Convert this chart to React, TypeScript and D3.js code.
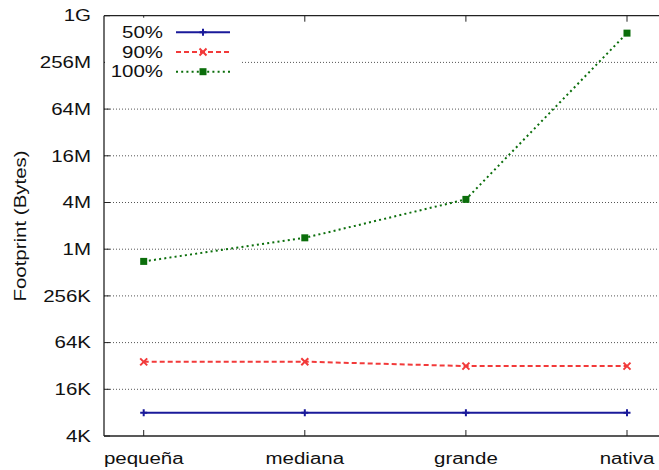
import React from "react";
import * as d3 from "d3";

const categories = ["pequeña", "mediana", "grande", "nativa"];
const seriesNames = ["50%", "90%", "100%"];
const s50 = [8192, 8192, 8192, 8192];
const s90 = [37000, 37200, 32600, 32600];
const s100 = [730000, 1470000, 4600000, 640000000];
const yTickValues = [4096, 16384, 65536, 262144, 1048576, 4194304, 16777216, 67108864, 268435456, 1073741824];
const yTickLabels = ["4K", "16K", "64K", "256K", "1M", "4M", "16M", "64M", "256M", "1G"];

const W = 659, H = 470;
const left = 104, top = 15.7, bottom = 436;
const font = "'Liberation Sans', Arial, sans-serif";
const SX = 1.28;

function T({ x, y, anchor, children, rotate }: { x: number; y: number; anchor: string; children: React.ReactNode; rotate?: boolean }) {
  const tr = rotate ? `translate(${x},${y}) rotate(-90) scale(${SX},1)` : `translate(${x},${y}) scale(${SX},1)`;
  return (
    <text transform={tr} textAnchor={anchor} fontSize={16} fill="#111" dy={rotate ? 0 : "0.36em"}>
      {children}
    </text>
  );
}

export default function App() {
  const x = d3.scalePoint<string>().domain(categories).range([143.7, 627]);
  const y = d3.scaleLog().base(2).domain([4096, 1073741824]).range([bottom, top]);
  const line = d3.line<number>().x((_, i) => x(categories[i])!).y((d) => y(d));

  const series = [
    { name: seriesNames[0], data: s50, color: "#1a1a9a", dash: "none", marker: "plus" },
    { name: seriesNames[1], data: s90, color: "#f23a3a", dash: "5,3", marker: "cross" },
    { name: seriesNames[2], data: s100, color: "#0b6e0b", dash: "2,3.2", marker: "square" },
  ];

  const marker = (kind: string, cx: number, cy: number, color: string, key: string) => {
    if (kind === "plus")
      return (
        <path key={key} d={`M${cx - 3.5},${cy}H${cx + 3.5}M${cx},${cy - 3.5}V${cy + 3.5}`} stroke={color} strokeWidth={2} />
      );
    if (kind === "cross")
      return (
        <path key={key} d={`M${cx - 3.5},${cy - 3.5}L${cx + 3.5},${cy + 3.5}M${cx - 3.5},${cy + 3.5}L${cx + 3.5},${cy - 3.5}`} stroke={color} strokeWidth={2} />
      );
    return <rect key={key} x={cx - 3.5} y={cy - 3.5} width={7} height={7} fill={color} />;
  };

  return (
    <svg width={W} height={H} style={{ position: "absolute", left: 0, top: 0, background: "#fff" }} fontFamily={font}>
      {yTickValues.slice(1, -1).map((v) => (
        <line key={"g" + v} x1={left} x2={W} y1={y(v)} y2={y(v)} stroke="#555" strokeWidth={1} strokeDasharray="1,2" />
      ))}
      <line x1={left} x2={W} y1={top} y2={top} stroke="#222" strokeWidth={1.3} />
      <line x1={left} x2={W} y1={bottom} y2={bottom} stroke="#222" strokeWidth={1.3} />
      <line x1={left} x2={left} y1={top} y2={bottom} stroke="#222" strokeWidth={1.3} />
      {yTickValues.map((v, i) => (
        <g key={"yt" + v}>
          <line x1={left} x2={left + 6} y1={y(v)} y2={y(v)} stroke="#222" strokeWidth={1} />
          <T x={91} y={y(v)} anchor="end">{yTickLabels[i]}</T>
        </g>
      ))}
      {categories.map((c) => (
        <g key={"xt" + c}>
          <line x1={x(c)!} x2={x(c)!} y1={bottom} y2={bottom - 6} stroke="#222" strokeWidth={1} />
          <line x1={x(c)!} x2={x(c)!} y1={top} y2={top + 6} stroke="#222" strokeWidth={1} />
          <T x={x(c)!} y={458} anchor="middle">{c}</T>
        </g>
      ))}
      <T x={26} y={226} anchor="middle" rotate>Footprint (Bytes)</T>
      {series.map((s) => (
        <g key={s.name}>
          <path d={line(s.data)!} fill="none" stroke={s.color} strokeWidth={2} strokeDasharray={s.dash} />
          {s.data.map((d, i) => marker(s.marker, x(categories[i])!, y(d), s.color, s.name + i))}
        </g>
      ))}
      <rect x={left + 1} y={top + 2} width={136} height={68} fill="#fff" />
      {series.map((s, i) => {
        const ly = 32.3 + i * 19.7;
        return (
          <g key={"lg" + s.name}>
            <T x={163} y={ly} anchor="end">{s.name}</T>
            <line x1={176} x2={230} y1={ly} y2={ly} stroke={s.color} strokeWidth={2} strokeDasharray={s.dash} />
            {marker(s.marker, 203, ly, s.color, "lm" + i)}
          </g>
        );
      })}
    </svg>
  );
}
